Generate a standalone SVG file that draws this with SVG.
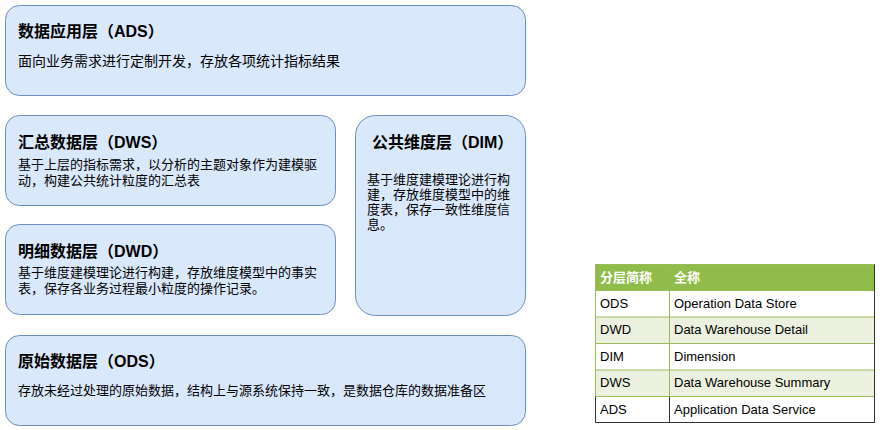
<svg xmlns="http://www.w3.org/2000/svg" width="882" height="430" viewBox="0 0 882 430">
<style>
.box{fill:#dae8fc;stroke:#6c8ebf;stroke-width:1}
.t{font-family:"Liberation Sans","Noto Sans CJK SC",sans-serif;font-weight:bold;font-size:16px;fill:#000}
.d{font-family:"Liberation Sans","Noto Sans CJK SC",sans-serif;font-size:13px;fill:#000}
.th{font-family:"Liberation Sans","Noto Sans CJK SC",sans-serif;font-weight:bold;font-size:13px;fill:#fff}
.td{font-family:"Liberation Sans","Noto Sans CJK SC",sans-serif;font-size:13px;fill:#000}
.hl{fill:#8fbc4b}
.alt{fill:#ebf1de}
.wh{fill:#fff}
.gl{stroke:#9bbb59;stroke-width:1}
</style>
<rect width="882" height="430" fill="#fff"/>
<g id="ads">
<rect class="box" x="5.5" y="5.5" width="520" height="90" rx="14"/>
<text class="t" x="18" y="37">数据应用层（ADS）</text>
<text class="d" x="18" y="66" style="font-size:14px">面向业务需求进行定制开发，存放各项统计指标结果</text>
</g>
<g id="dws">
<rect class="box" x="5.5" y="115.5" width="330" height="90" rx="14"/>
<text class="t" x="18" y="148">汇总数据层（DWS）</text>
<text class="d" x="18" y="169">基于上层的指标需求，以分析的主题对象作为建模驱</text>
<text class="d" x="18" y="185">动，构建公共统计粒度的汇总表</text>
</g>
<g id="dwd">
<rect class="box" x="5.5" y="224.5" width="330" height="90" rx="14"/>
<text class="t" x="18" y="257">明细数据层（DWD）</text>
<text class="d" x="18" y="277">基于维度建模理论进行构建，存放维度模型中的事实</text>
<text class="d" x="18" y="293">表，保存各业务过程最小粒度的操作记录。</text>
</g>
<g id="dim">
<rect class="box" x="355.5" y="115.5" width="170" height="200" rx="20"/>
<text class="t" x="372" y="148">公共维度层（DIM）</text>
<text class="d" x="367" y="184">基于维度建模理论进行构</text>
<text class="d" x="367" y="199">建，存放维度模型中的维</text>
<text class="d" x="367" y="214">度表，保存一致性维度信</text>
<text class="d" x="367" y="229">息。</text>
</g>
<g id="ods">
<rect class="box" x="5.5" y="335.5" width="520" height="90" rx="14"/>
<text class="t" x="18" y="367">原始数据层（ODS）</text>
<text class="d" x="18" y="395">存放未经过处理的原始数据，结构上与源系统保持一致，是数据仓库的数据准备区</text>
</g>
<g id="table">
<rect class="hl" x="595" y="264" width="280" height="26.5"/>
<rect class="wh" x="595" y="290.5" width="280" height="26.5"/>
<rect class="alt" x="595" y="317" width="280" height="26.5"/>
<rect class="wh" x="595" y="343.5" width="280" height="26.5"/>
<rect class="alt" x="595" y="370" width="280" height="26.5"/>
<rect class="wh" x="595" y="396.5" width="280" height="26.5"/>
<g class="gl">
<line x1="595" y1="290.5" x2="875" y2="290.5"/>
<line x1="595" y1="317" x2="875" y2="317"/>
<line x1="595" y1="343.5" x2="875" y2="343.5"/>
<line x1="595" y1="370" x2="875" y2="370"/>
<line x1="595" y1="396.5" x2="875" y2="396.5"/>
<line x1="669.5" y1="264" x2="669.5" y2="423"/>
</g>
<rect x="595.5" y="264.5" width="279" height="158" fill="none" stroke="#9bbb59"/>
<path d="M595.5 396.5 V422.5 H874.5 V264.5" fill="none" stroke="#333"/>
<line x1="669.5" y1="396.5" x2="669.5" y2="423" stroke="#333"/>
<text class="th" x="600" y="282">分层简称</text>
<text class="th" x="674" y="282">全称</text>
<text class="td" x="600" y="308">ODS</text>
<text class="td" x="674" y="308">Operation Data Store</text>
<text class="td" x="600" y="334">DWD</text>
<text class="td" x="674" y="334">Data Warehouse Detail</text>
<text class="td" x="600" y="361">DIM</text>
<text class="td" x="674" y="361">Dimension</text>
<text class="td" x="600" y="387">DWS</text>
<text class="td" x="674" y="387">Data Warehouse Summary</text>
<text class="td" x="600" y="414">ADS</text>
<text class="td" x="674" y="414">Application Data Service</text>
</g>
</svg>
